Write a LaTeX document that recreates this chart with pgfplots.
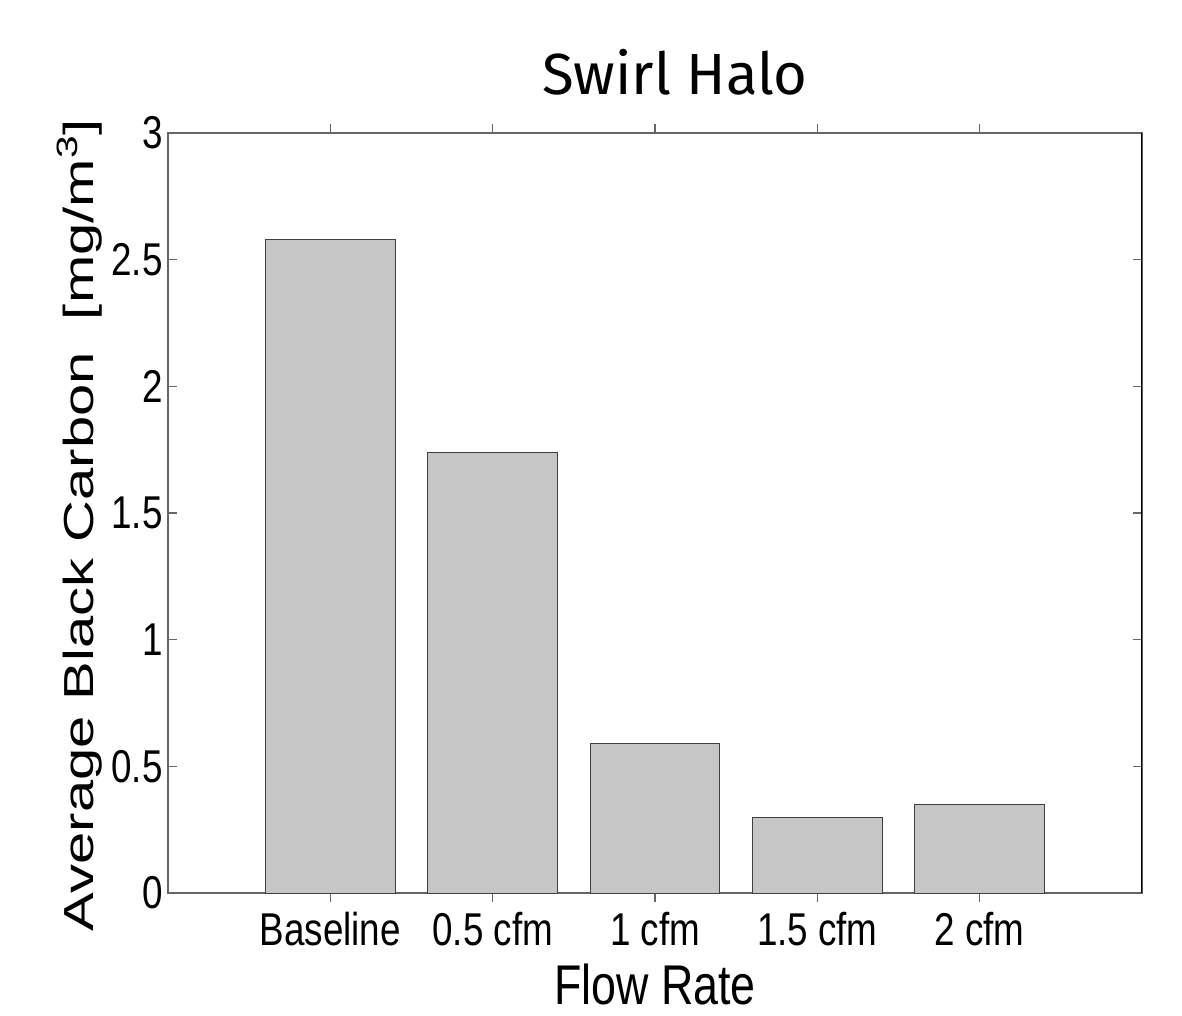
\documentclass[border=0pt]{standalone}
\usepackage{pgfplots}
\pgfplotsset{compat=1.18}
\usepackage{fontspec}
\setmainfont{Liberation Sans}
\newfontfamily\tickfont[FakeStretch=0.8]{Liberation Sans}
\newfontfamily\ylabfont[FakeStretch=1.38]{Liberation Sans}
\newfontfamily\titlefont{Fira Sans}
\definecolor{barfill}{HTML}{C6C6C6}
\definecolor{axgray}{HTML}{666666}
\begin{document}
\begin{tikzpicture}
\begin{axis}[
  scale only axis,
  width=487pt, height=380pt,
  xmin=0, xmax=6, ymin=0, ymax=3,
  xtick={1,2,3,4,5},
  xticklabels={Baseline,0.5 cfm,1 cfm,1.5 cfm,2 cfm},
  ytick={0,0.5,1,1.5,2,2.5,3},
  yticklabels={0,0.5,1,1.5,2,2.5,3},
  tick pos=both,
  tick align=inside,
  major tick length=4.5pt,
  tick style={axgray, line width=0.6pt},
  axis line style={axgray, line width=0.9pt},
  xticklabel style={font=\tickfont\fontsize{23pt}{27pt}\selectfont, anchor=base, yshift=-21.5pt},
  yticklabel style={font=\tickfont\fontsize{23pt}{27pt}\selectfont, inner sep=0pt, xshift=-2.5pt},
  xlabel={Flow Rate},
  xlabel style={font=\tickfont\fontsize{28pt}{32pt}\selectfont, at={(axis description cs:0.5,-0.147)}, anchor=base},
  ylabel={Average Black Carbon\ \ [mg/m\textsuperscript{3}]},
  ylabel style={font=\ylabfont\fontsize{21pt}{25pt}\selectfont, at={(axis description cs:-0.077,0.484)}, anchor=base, rotate=0},
  title={Swirl Halo},
  title style={font=\titlefont\fontsize{29pt}{34pt}\selectfont, at={(axis description cs:0.5205,1)}, anchor=base, yshift=13pt},
  ybar,
  bar width=0.8,
]
\addplot[fill=barfill, draw=black!75, line width=0.5pt] coordinates {
  (1,2.58) (2,1.737) (3,0.592) (4,0.300) (5,0.351)
};
\draw[black, line width=0.9pt] (rel axis cs:1,0) -- (rel axis cs:1,1);
\end{axis}
\path (current axis.south west) ++(-84pt,-61.5pt) rectangle ++(591pt,508pt);
\end{tikzpicture}
\end{document}
